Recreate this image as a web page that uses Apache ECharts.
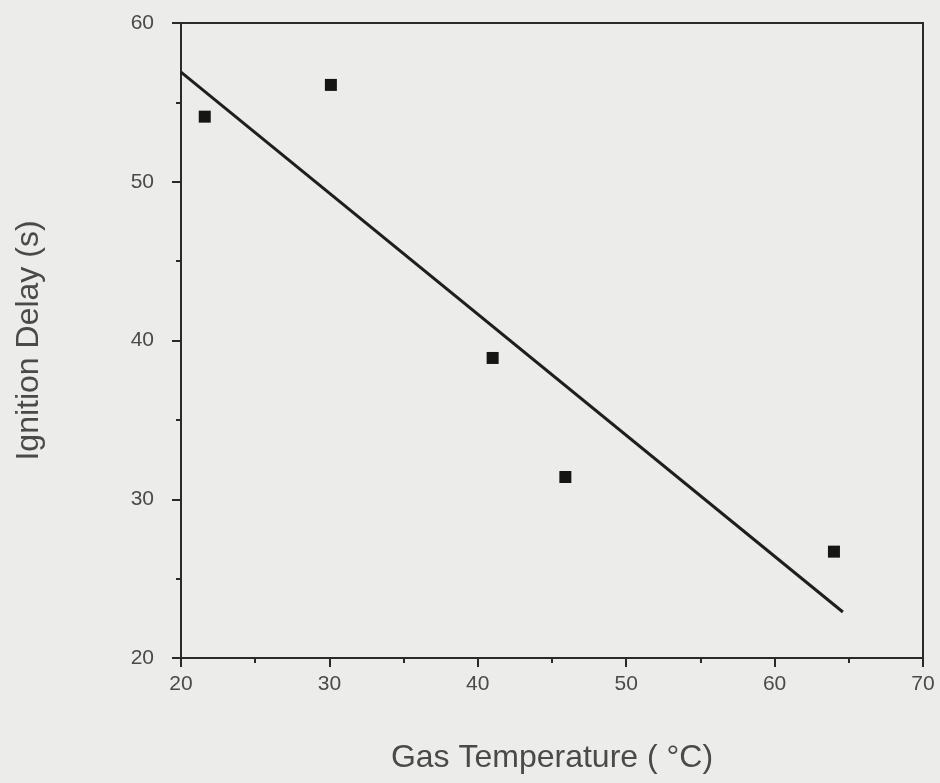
<!DOCTYPE html>
<html>
<head>
<meta charset="utf-8">
<script src="https://cdn.jsdelivr.net/npm/echarts@6/dist/echarts.min.js"></script>
<style>
html,body{margin:0;padding:0;background:#ececea;}
#chart{width:940px;height:783px;}
</style>
</head>
<body>
<div id="chart"></div>
<script>
//测量点（温度, 点火延迟）
var tempX = [21.6, 30.1, 41.0, 45.9, 64.0];
var delayY = [54.1, 56.1, 38.9, 31.4, 26.7];
//拟合直线端点
var fitX = [20, 64.6];
var fitY = [56.9, 22.9];

var points = tempX.map(function (t, i) { return [t, delayY[i]]; });
var fitLine = fitX.map(function (t, i) { return [t, fitY[i]]; });

var myChart = echarts.init(document.getElementById('chart'));

var option = {
    backgroundColor: '#ececea',
    animation: false,
    grid: {
        left: 181, right: 17, top: 23, bottom: 125,
        outerBoundsMode: 'none',
        containLabel: false,
        show: true, borderColor: '#2a2a2a', borderWidth: 2
    },
    xAxis: {
        type: 'value',
        min: 20, max: 70, interval: 10,
        name: 'Gas Temperature ( °C)',
        nameLocation: 'middle',
        nameGap: 84,
        nameTextStyle: { fontSize: 32, color: '#4a4a4a', fontFamily: 'Liberation Sans' },
        axisLine: { show: true, lineStyle: { color: '#2a2a2a', width: 2 } },
        axisTick: { show: true, length: 9, lineStyle: { color: '#2a2a2a', width: 2 } },
        minorTick: { show: true, splitNumber: 2, length: 5, lineStyle: { color: '#2a2a2a', width: 2 } },
        axisLabel: { fontSize: 21, color: '#4a4a4a', margin: 16, fontFamily: 'Liberation Sans' },
        splitLine: { show: false }
    },
    yAxis: {
        type: 'value',
        min: 20, max: 60, interval: 10,
        name: 'Ignition Delay (s)',
        nameLocation: 'middle',
        nameGap: 136,
        nameTextStyle: { fontSize: 32, color: '#4a4a4a', fontFamily: 'Liberation Sans' },
        axisLine: { show: true, lineStyle: { color: '#2a2a2a', width: 2 } },
        axisTick: { show: true, length: 9, lineStyle: { color: '#2a2a2a', width: 2 } },
        minorTick: { show: true, splitNumber: 2, length: 5, lineStyle: { color: '#2a2a2a', width: 2 } },
        axisLabel: { fontSize: 21, color: '#4a4a4a', margin: 27, fontFamily: 'Liberation Sans' },
        splitLine: { show: false }
    },
    series: [
        {
            name: 'fit',
            type: 'line',
            data: fitLine,
            symbol: 'none',
            lineStyle: { color: '#1e1e1e', width: 3 },
            z: 2
        },
        {
            name: 'data',
            type: 'scatter',
            data: points,
            symbol: 'rect',
            symbolSize: 12,
            itemStyle: { color: '#151515', opacity: 1 },
            z: 3
        }
    ]
};

myChart.setOption(option);
</script>
</body>
</html>
